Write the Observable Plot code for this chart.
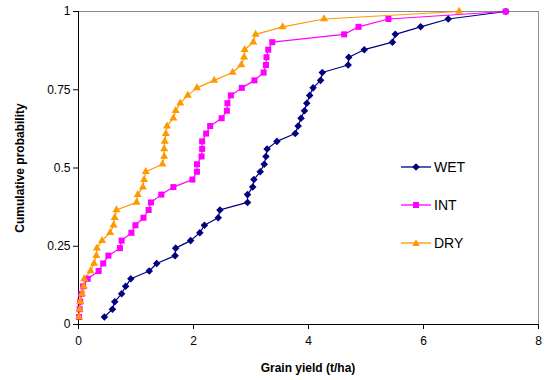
<!DOCTYPE html>
<html><head><meta charset="utf-8">
<script src="https://cdn.jsdelivr.net/npm/d3@7"></script>
<script src="https://cdn.jsdelivr.net/npm/@observablehq/plot@0.6"></script>
<style>
body{margin:0;background:#fff;font-family:"Liberation Sans",Arial,sans-serif;}
#wrap{position:relative;width:545px;height:380px;overflow:hidden;}
.item{position:absolute;left:401px;height:16px;display:flex;align-items:center;font-size:14px;white-space:nowrap;color:#000;}
.item svg{display:block;}
.item span{margin-left:3px;}
.ytitle{position:absolute;left:20px;top:168px;transform:translate(-50%,-50%) rotate(-90deg);font-weight:bold;font-size:12px;white-space:nowrap;}
.xtitle{position:absolute;left:308px;top:368px;transform:translate(-50%,-50%);font-weight:bold;font-size:12px;white-space:nowrap;}
</style></head><body><div id="wrap"></div><script>
// cumulative probability of each rank (same for all three series)
const probability = [0.024,0.049,0.073,0.098,0.122,0.146,0.171,0.195,0.220,0.244,0.268,0.293,0.317,0.341,0.366,0.390,0.415,0.439,0.463,0.488,0.512,0.537,0.561,0.585,0.610,0.634,0.659,0.683,0.707,0.732,0.756,0.780,0.805,0.829,0.854,0.878,0.902,0.927,0.951,0.976,1];
// grain yield (t/ha), sorted
const wetYield = [0.45,0.59,0.63,0.75,0.82,0.91,1.23,1.36,1.68,1.69,1.95,2.11,2.19,2.43,2.46,2.94,2.94,3.03,3.05,3.16,3.23,3.26,3.28,3.45,3.77,3.82,3.87,3.93,3.97,4.02,4.08,4.21,4.24,4.69,4.70,4.97,5.46,5.51,5.95,6.43,7.43];
const intYield = [0.01,0.02,0.03,0.05,0.08,0.16,0.35,0.43,0.52,0.72,0.75,0.92,0.99,1.13,1.22,1.26,1.44,1.65,1.98,2.06,2.06,2.14,2.15,2.15,2.22,2.29,2.49,2.58,2.59,2.65,2.84,3.06,3.22,3.26,3.27,3.30,3.37,4.62,4.87,5.39,7.43];
const dryYield = [0.01,0.02,0.03,0.06,0.09,0.10,0.21,0.27,0.31,0.32,0.41,0.55,0.61,0.63,0.66,1.01,1.03,1.12,1.14,1.17,1.46,1.49,1.49,1.50,1.52,1.54,1.65,1.69,1.77,1.90,2.06,2.36,2.68,2.83,2.88,2.89,3.04,3.08,3.55,4.27,6.62];
const seriesNames = ["WET","INT","DRY"];
const xTicks = [0,2,4,6,8];
const xTickLabels = ["0","2","4","6","8"];
const yTicks = [0,0.25,0.5,0.75,1];
const yTickLabels = ["0","0.25","0.5","0.75","1"];
const xTitle = "Grain yield (t/ha)";
const yTitle = "Cumulative probability";

const styles = {
  WET:{color:"#000080", symbol:"diamond2", r:3.4},
  INT:{color:"#ff00ff", symbol:"square", r:3.4},
  DRY:{color:"#ff9900", symbol:"triangle", r:3.0}
};
const yields = [wetYield, intYield, dryYield];
const data = seriesNames.map((s,k)=>yields[k].map((v,i)=>({series:s, x:v, y:probability[i]})));

const marks = [
  Plot.ruleY([1],{stroke:"#8c8c8c"}),
  Plot.ruleX([8],{stroke:"#8c8c8c"}),
  Plot.axisY({ticks:yTicks, tickFormat:d=>yTickLabels[yTicks.indexOf(d)], tickSize:5, tickPadding:3, label:null}),
  Plot.axisX({ticks:xTicks, tickFormat:d=>xTickLabels[xTicks.indexOf(d)], tickSize:5, tickPadding:7, label:null}),
  Plot.ruleX([0],{stroke:"#000"}),
  Plot.ruleY([0],{stroke:"#000"})
];
data.forEach((d,k)=>{
  const st = styles[seriesNames[k]];
  marks.push(Plot.line(d,{x:"x",y:"y",stroke:st.color,strokeWidth:1.2}));
});
data.forEach((d,k)=>{
  const st = styles[seriesNames[k]];
  marks.push(Plot.dot(d,{x:"x",y:"y",symbol:()=>st.symbol,fill:st.color,stroke:"none",r:st.r}));
});

const chart = Plot.plot({
  width:545, height:380,
  marginLeft:78, marginRight:7, marginTop:11, marginBottom:56,
  style:{fontFamily:"'Liberation Sans', Arial, sans-serif", fontSize:"12px", color:"#000", background:"transparent", overflow:"visible"},
  x:{domain:[0,8]},
  y:{domain:[0,1]},
  symbol:{type:"identity"},
  marks
});
const wrap = document.getElementById("wrap");
wrap.appendChild(chart);

const yt = document.createElement("div"); yt.className="ytitle"; yt.textContent=yTitle; wrap.appendChild(yt);
const xt = document.createElement("div"); xt.className="xtitle"; xt.textContent=xTitle; wrap.appendChild(xt);

const legendTops = [159,197,235];
const markerShapes = {
  WET: c=>`<polygon points="15,2.2 18.8,6 15,9.8 11.2,6" fill="${c}"/>`,
  INT: c=>`<rect x="12" y="3" width="6" height="6" fill="${c}"/>`,
  DRY: c=>`<polygon points="15,2.2 18.8,9 11.2,9" fill="${c}"/>`
};
seriesNames.forEach((s,i)=>{
  const st = styles[s];
  const it = document.createElement("div");
  it.className="item"; it.style.top = legendTops[i]+"px";
  it.innerHTML = `<svg width="30" height="12"><line x1="0" x2="30" y1="6" y2="6" stroke="${st.color}" stroke-width="1.3"/>${markerShapes[s](st.color)}</svg><span>${s}</span>`;
  wrap.appendChild(it);
});
</script></body></html>
